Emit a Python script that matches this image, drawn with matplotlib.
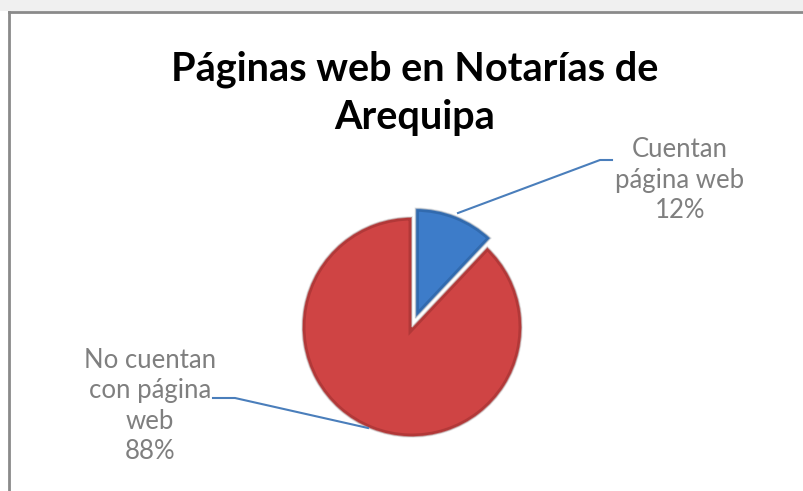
import matplotlib.pyplot as plt
from matplotlib.patches import Rectangle, Wedge

# datos del gráfico
categorias = ["Cuentan\npágina web", "No cuentan\ncon página\nweb"]
porcentajes = [12, 88]
colores = ["#3d7cc9", "#cf4444"]
bordes = ["#24558f", "#8f2a2a"]
separacion = [0.085, 0.0]  # fracción del radio
titulo = "Páginas web en Notarías de\nArequipa"

W, H = 804, 491
radio = 110

fig = plt.figure(figsize=(W / 100, H / 100), dpi=100)
ax = fig.add_axes([0, 0, 1, 1])

# franja gris superior y borde del gráfico
ax.add_patch(Rectangle((0, H - 11), W, 11, facecolor="#f0f0f0", edgecolor="none", zorder=0))
ax.plot([9, 803], [H - 12, H - 12], color="#8a8a8a", lw=2, zorder=1)
ax.plot([9, 9], [0, H - 12], color="#8a8a8a", lw=2, zorder=1)

wedges, _ = ax.pie(
    porcentajes,
    colors=colores,
    explode=[s * radio for s in separacion],
    startangle=90,
    counterclock=False,
    center=(412, H - 327),
    radius=radio,
    frame=True,
    wedgeprops=dict(edgecolor="#e6e6e6", linewidth=1.2),
)
ax.set_xlim(0, W)
ax.set_ylim(0, H)
ax.set_aspect("equal")
ax.axis("off")

# borde oscuro interior para simular el relieve
for w, b in zip(wedges, bordes):
    w.set_zorder(3)
    sombra = Wedge(w.center, w.r, w.theta1, w.theta2, facecolor="none",
                   edgecolor=b, linewidth=5, alpha=0.45, zorder=3.5)
    ax.add_patch(sombra)
    sombra.set_clip_path(w)

ax.text(415, H - 93, titulo, ha="center", va="center", fontsize=28.5,
        fontweight="bold", family="Lato", linespacing=1.38, color="black")

etiquetas = [f"{c}\n{p}%" for c, p in zip(categorias, porcentajes)]
ax.text(680, H - 180, etiquetas[0], ha="center", va="center", fontsize=18.5,
        family="Lato", color="#7f7f7f", linespacing=1.28)
ax.text(150, H - 406, etiquetas[1], ha="center", va="center", fontsize=18.5,
        family="Lato", color="#7f7f7f", linespacing=1.28)

# líneas guía
ax.plot([458, 600, 612], [H - 213, H - 160, H - 160], color="#4a7ebb", lw=1.5, zorder=4)
ax.plot([213, 235, 368], [H - 398, H - 398, H - 428], color="#4a7ebb", lw=1.5, zorder=4)

fig.savefig("out.png", dpi=100)
